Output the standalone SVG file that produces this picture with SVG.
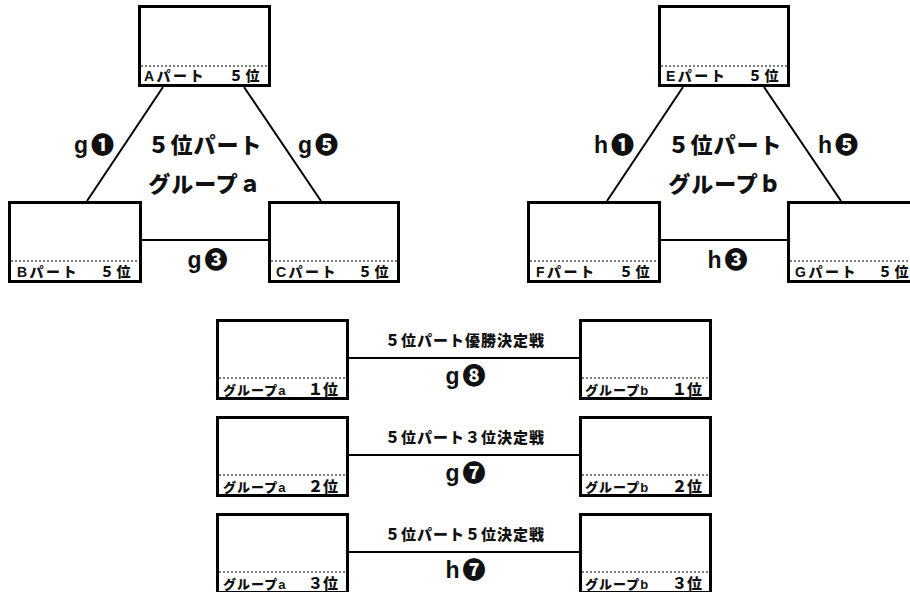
<svg xmlns="http://www.w3.org/2000/svg" width="910" height="592" viewBox="0 0 910 592">
<style>
.box{fill:#fff;stroke:#000;stroke-width:3}
.dot{stroke:#000;stroke-width:1;stroke-dasharray:2 2}
.con{stroke:#000;stroke-width:2;fill:none}
text{font-family:"Liberation Sans","Noto Sans CJK JP","DejaVu Sans",sans-serif;font-weight:900;fill:#111}
.lbl{font-size:14px;letter-spacing:2.5px}
.big{font-size:22px;letter-spacing:1px;text-anchor:middle}
.mk{font-size:23px;letter-spacing:3px}
.ttl{font-size:15px;letter-spacing:1px;text-anchor:middle}
.sl{font-size:13px;letter-spacing:1px}
.sr{font-size:15px;text-anchor:end}
.end{text-anchor:end}
.mid{text-anchor:middle}
</style>
<rect width="910" height="592" fill="#fff"/>
<g id="connectors">
<line class="con" x1="163" y1="87" x2="87" y2="201"/>
<line class="con" x1="244" y1="87" x2="321" y2="201"/>
<line class="con" x1="142" y1="240" x2="268" y2="240"/>
<line class="con" x1="683" y1="87" x2="607" y2="201"/>
<line class="con" x1="764" y1="87" x2="841" y2="201"/>
<line class="con" x1="661" y1="240" x2="787" y2="240"/>
<line class="con" x1="349" y1="358" x2="579" y2="358"/>
<line class="con" x1="349" y1="455" x2="579" y2="455"/>
<line class="con" x1="349" y1="552" x2="579" y2="552"/>
</g>
<g id="nodeA">
<rect class="box" x="139.5" y="6.5" width="130" height="79"/>
<line class="dot" x1="141" y1="66" x2="268" y2="66"/>
<text class="lbl" x="144" y="81">Aパート</text><text class="lbl end" x="262" y="81">５位</text>
</g>
<g id="nodeB">
<rect class="box" x="9.5" y="202.5" width="131" height="79"/>
<line class="dot" x1="11" y1="261" x2="139" y2="261"/>
<text class="lbl" x="17" y="277">Bパート</text><text class="lbl end" x="133" y="277">５位</text>
</g>
<g id="nodeC">
<rect class="box" x="269.5" y="202.5" width="129" height="79"/>
<line class="dot" x1="271" y1="261" x2="397" y2="261"/>
<text class="lbl" x="276" y="277">Cパート</text><text class="lbl end" x="391" y="277">５位</text>
</g>
<g id="nodeE">
<rect class="box" x="659.5" y="6.5" width="129" height="79"/>
<line class="dot" x1="661" y1="66" x2="787" y2="66"/>
<text class="lbl" x="666" y="81">Eパート</text><text class="lbl end" x="781" y="81">５位</text>
</g>
<g id="nodeF">
<rect class="box" x="528.5" y="202.5" width="131" height="79"/>
<line class="dot" x1="530" y1="261" x2="658" y2="261"/>
<text class="lbl" x="536" y="277">Fパート</text><text class="lbl end" x="652" y="277">５位</text>
</g>
<g id="nodeG">
<rect class="box" x="788.5" y="202.5" width="131" height="79"/>
<line class="dot" x1="790" y1="261" x2="918" y2="261"/>
<text class="lbl" x="795" y="277">Gパート</text><text class="lbl end" x="911" y="277">５位</text>
</g>
<g id="labels-top">
<text class="big" x="205" y="153">５位パート</text>
<text class="big" x="205" y="192">グループａ</text>
<text class="mk end" x="117" y="153">g❶</text>
<text class="mk" x="298" y="153">g❺</text>
<text class="mk mid" x="209" y="268">g❸</text>
<text class="big" x="725" y="153">５位パート</text>
<text class="big" x="725" y="192">グループｂ</text>
<text class="mk end" x="637" y="153">h❶</text>
<text class="mk" x="818" y="153">h❺</text>
<text class="mk mid" x="729" y="268">h❸</text>
</g>
<g id="row1a">
<rect class="box" x="217.5" y="320.5" width="130" height="78"/>
<line class="dot" x1="219" y1="378" x2="346" y2="378"/>
<text class="sl" x="223" y="395">グループa</text><text class="sr" x="338" y="395">１位</text>
</g>
<g id="row1b">
<rect class="box" x="580.5" y="320.5" width="130" height="78"/>
<line class="dot" x1="582" y1="378" x2="709" y2="378"/>
<text class="sl" x="585" y="395">グループb</text><text class="sr" x="702" y="395">１位</text>
</g>
<g id="row2a">
<rect class="box" x="217.5" y="417.5" width="130" height="78"/>
<line class="dot" x1="219" y1="475" x2="346" y2="475"/>
<text class="sl" x="223" y="492">グループa</text><text class="sr" x="338" y="492">２位</text>
</g>
<g id="row2b">
<rect class="box" x="580.5" y="417.5" width="130" height="78"/>
<line class="dot" x1="582" y1="475" x2="709" y2="475"/>
<text class="sl" x="585" y="492">グループb</text><text class="sr" x="702" y="492">２位</text>
</g>
<g id="row3a">
<rect class="box" x="217.5" y="514.5" width="130" height="78"/>
<line class="dot" x1="219" y1="572" x2="346" y2="572"/>
<text class="sl" x="223" y="589">グループa</text><text class="sr" x="338" y="589">３位</text>
</g>
<g id="row3b">
<rect class="box" x="580.5" y="514.5" width="130" height="78"/>
<line class="dot" x1="582" y1="572" x2="709" y2="572"/>
<text class="sl" x="585" y="589">グループb</text><text class="sr" x="702" y="589">３位</text>
</g>
<g id="labels-bottom">
<text class="ttl" x="465" y="346">５位パート優勝決定戦</text>
<text class="mk mid" x="467" y="384">g❽</text>
<text class="ttl" x="465" y="443">５位パート３位決定戦</text>
<text class="mk mid" x="467" y="481">g❼</text>
<text class="ttl" x="465" y="540">５位パート５位決定戦</text>
<text class="mk mid" x="467" y="578">h❼</text>
</g>
</svg>
